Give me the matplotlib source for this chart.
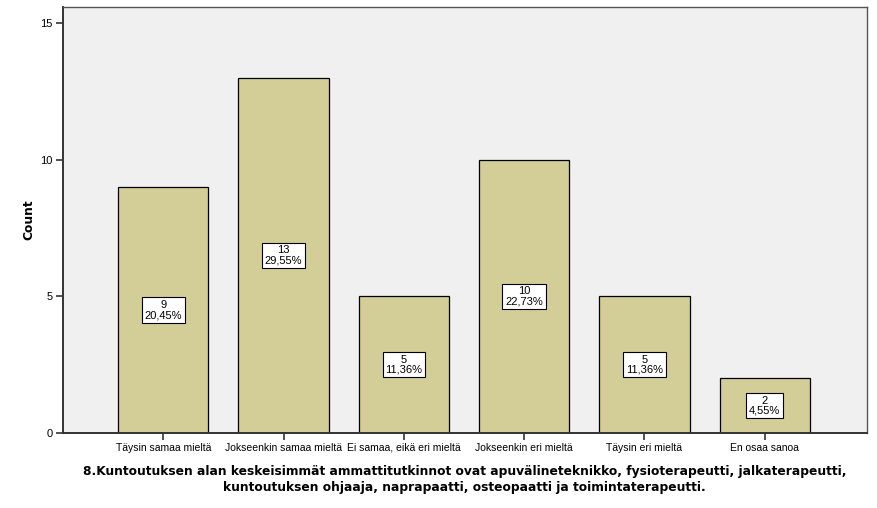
import matplotlib
matplotlib.use("Agg")
import matplotlib.pyplot as plt

categories = ["Täysin samaa mieltä", "Jokseenkin samaa mieltä", "Ei samaa, eikä eri mieltä",
              "Jokseenkin eri mieltä", "Täysin eri mieltä", "En osaa sanoa"]
counts = [9, 13, 5, 10, 5, 2]
percents = ["20,45%", "29,55%", "11,36%", "22,73%", "11,36%", "4,55%"]
yticks = [0, 5, 10, 15]
xlabel = ("8.Kuntoutuksen alan keskeisimmät ammattitutkinnot ovat apuvälineteknikko, fysioterapeutti, jalkaterapeutti,\n"
          "kuntoutuksen ohjaaja, naprapaatti, osteopaatti ja toimintaterapeutti.")

plt.rcParams['font.family'] = ['Liberation Sans', 'DejaVu Sans']

fig = plt.figure(figsize=(8.77, 5.08), dpi=100)
ax = fig.add_axes([0.0713, 0.1476, 0.9883 - 0.0713, 0.9862 - 0.1476])
ax.set_facecolor("#F0F0F0")

x = list(range(len(categories)))
ax.bar(x, counts, width=0.75, color="#D3CE97", edgecolor="black", linewidth=0.9, zorder=2)

for xi, c, p in zip(x, counts, percents):
    ax.text(xi, c / 2, f"{c}\n{p}", ha="center", va="center", fontsize=8,
            linespacing=1.0, zorder=3,
            bbox=dict(boxstyle="square,pad=0.25", facecolor="white", edgecolor="black", linewidth=0.8))

ax.set_xlim(-0.837, 5.848)
ax.set_ylim(0, 15.59)
ax.set_yticks(yticks)
ax.set_yticklabels([str(t) for t in yticks], fontsize=8)
ax.set_xticks(x)
ax.set_xticklabels(categories, fontsize=7.5)
ax.tick_params(axis="both", direction="out", length=5, width=1.2, color="#333333", pad=2)

for side in ["top", "right"]:
    ax.spines[side].set_color("#555555")
    ax.spines[side].set_linewidth(1.0)
for side in ["left", "bottom"]:
    ax.spines[side].set_color("#333333")
    ax.spines[side].set_linewidth(1.4)

ax.set_ylabel("Count", fontsize=8.8, fontweight="bold", labelpad=3.5, family="DejaVu Sans")
ax.set_xlabel(xlabel, fontsize=8.8, fontweight="bold", labelpad=9, linespacing=1.25, family="DejaVu Sans")

fig.savefig("out.png", dpi=100)
